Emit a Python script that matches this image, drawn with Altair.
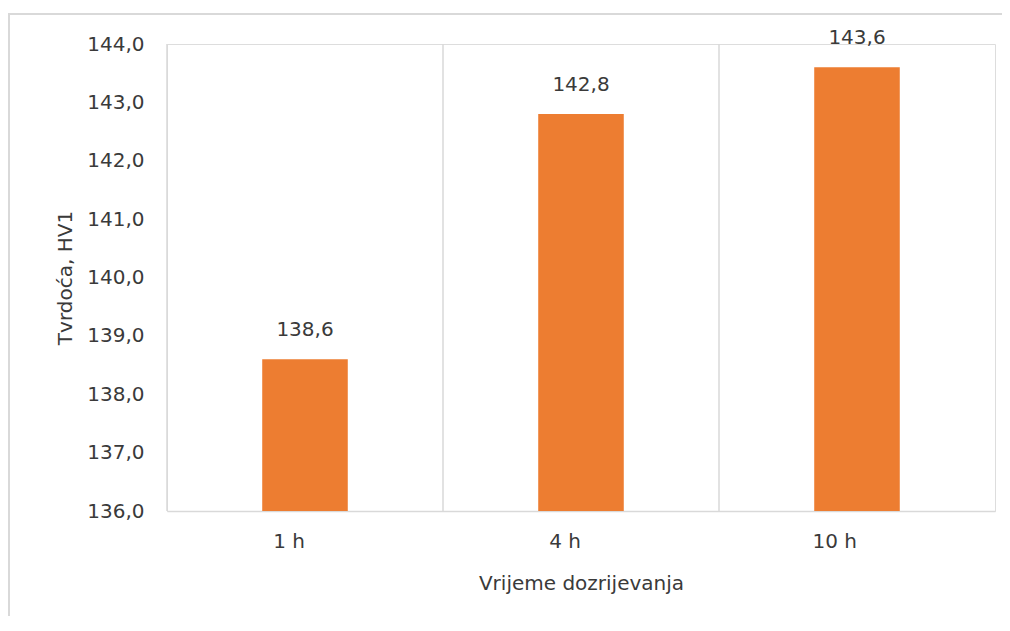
import altair as alt
import pandas as pd

categories = ["1 h", "4 h", "10 h"]
values = [138.6, 142.8, 143.6]
y_ticks = [136, 137, 138, 139, 140, 141, 142, 143, 144]
y_min, y_max = 136, 144

df = pd.DataFrame({"cat": categories, "val": values})

FONT = "DejaVu Sans"
FS = 20
TXT = "#3a3a3a"
GRID = "#d9d9d9"
W, H = 828, 467

xscale = alt.Scale(domain=categories, paddingInner=0, paddingOuter=0)
yscale = alt.Scale(domain=[y_min, y_max], nice=False, zero=False)

base = alt.Chart(df)

bars = base.mark_bar(color="#ED7D31", width=alt.RelativeBandSize(0.31)).encode(
    x=alt.X("cat:N", scale=xscale, sort=categories,
            axis=alt.Axis(title="Vrijeme dozrijevanja", labelAngle=0, ticks=False,
                          domainColor=GRID, domainWidth=1.5, grid=False,
                          labelFont=FONT, labelFontSize=FS, labelColor=TXT, labelPadding=30,
                          titleFont=FONT, titleFontSize=FS, titleColor=TXT,
                          titleFontWeight="normal", titlePadding=22)),
    y=alt.Y("val:Q", scale=yscale,
            axis=alt.Axis(title="Tvrdoća, HV1", values=y_ticks, ticks=False, domain=False,
                          gridColor=GRID, gridWidth=1.5,
                          labelExpr="replace(format(datum.value, '.1f'), '.', ',')",
                          labelFont=FONT, labelFontSize=FS, labelColor=TXT, labelPadding=23,
                          titleFont=FONT, titleFontSize=FS, titleColor=TXT,
                          titleFontWeight="normal", titlePadding=11)),
    y2=alt.datum(y_min),
)

vgrid = base.mark_rule(color=GRID, strokeWidth=1.5).encode(
    x=alt.X("cat:N", scale=xscale, sort=categories, bandPosition=0),
    y=alt.datum(y_min),
    y2=alt.datum(y_max),
)

labels = base.transform_calculate(
    lab="replace(format(datum.val, '.1f'), '.', ',')"
).mark_text(font=FONT, fontSize=FS, color=TXT, baseline="alphabetic", dy=-23).encode(
    x=alt.X("cat:N", scale=xscale, sort=categories),
    y=alt.Y("val:Q", scale=yscale),
    text="lab:N",
)

frame_top = alt.Chart(pd.DataFrame({"k": [0]})).mark_rule(color=GRID, strokeWidth=2).encode(
    x=alt.value(-159), x2=alt.value(900), y=alt.value(-30))
frame_left = alt.Chart(pd.DataFrame({"k": [0]})).mark_rule(color=GRID, strokeWidth=2).encode(
    x=alt.value(-158), y=alt.value(-30), y2=alt.value(700))

chart = alt.layer(vgrid, bars, labels, frame_top, frame_left).properties(
    width=W, height=H,
    autosize=alt.AutoSizeParams(type="none"),
    padding={"left": 159, "top": 36, "right": 7, "bottom": 105},
).configure_view(stroke=GRID, strokeWidth=1.5).configure(background="white")

chart.save("out.html", embed_options={"renderer": "svg", "actions": False})
